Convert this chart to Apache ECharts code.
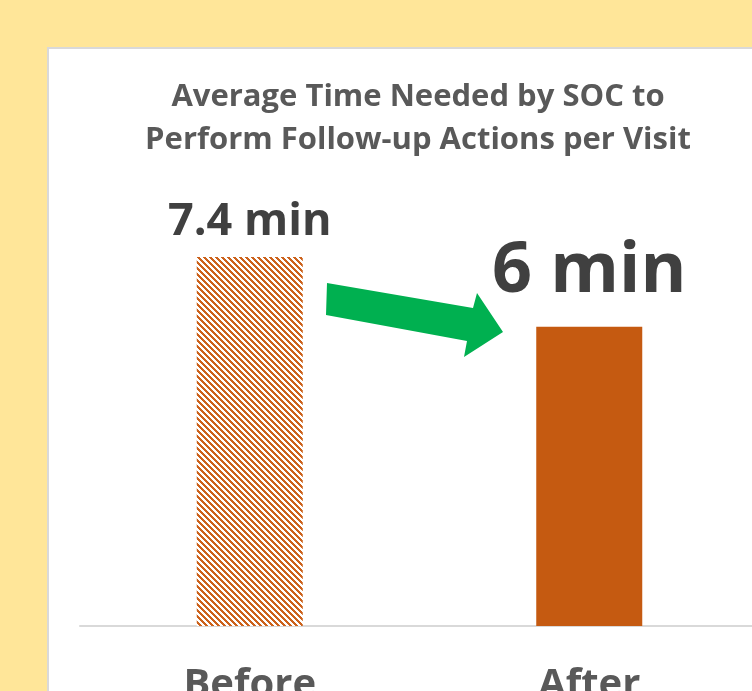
<!DOCTYPE html>
<html><head><meta charset="utf-8">
<script src="https://cdn.jsdelivr.net/npm/echarts@6/dist/echarts.min.js"></script>
<style>html,body{margin:0;padding:0;background:#FFE699;}#c{width:752px;height:691px;}</style>
</head><body><div id="c"></div>
<script>
const categories = ['Before', 'After'];
const values = [7.4, 6];
const valueLabels = ['7.4 min', '6 min'];
const titleLines = ['Average Time Needed by SOC to', 'Perform Follow-up Actions per Visit'];

function stripes() {
  const s = 6, c = document.createElement('canvas');
  c.width = s; c.height = s;
  const ctx = c.getContext('2d');
  const img = ctx.createImageData(s, s);
  for (let y = 0; y < s; y++) for (let x = 0; x < s; x++) {
    const d = ((x - y) % s + s) % s;
    const i = (y * s + x) * 4;
    const on = d < 3;
    img.data[i] = on ? 204 : 255; img.data[i+1] = on ? 98 : 255; img.data[i+2] = on ? 28 : 255; img.data[i+3] = 255;
  }
  ctx.putImageData(img, 0, 0);
  return c;
}

const chart = echarts.init(document.getElementById('c'));
const font = '"Open Sans", sans-serif';
chart.setOption({
  animation: false,
  backgroundColor: '#FFE699',
  graphic: [
    { type: 'rect', z: -10, shape: { x: 48, y: 48, width: 740, height: 700 }, style: { fill: '#fff', stroke: '#D9D9D9', lineWidth: 2 } },
    { type: 'text', z: 10, x: 418, y: 76, style: { text: titleLines.join('\n'), fill: '#595959', font: 'bold 31px ' + font, textAlign: 'center', lineHeight: 43 } },
    { type: 'polygon', z: 10, shape: { points: [[327, 283], [473, 308], [477, 293], [503, 332], [464, 357], [467, 341], [326, 315]] }, style: { fill: '#00B050' } }
  ],
  grid: { left: 80, width: 679, bottom: 65, top: 227, containLabel: false, outerBoundsMode: 'none' },
  xAxis: {
    type: 'category', data: categories,
    axisLine: { lineStyle: { color: '#D9D9D9', width: 2 } },
    axisTick: { show: false },
    axisLabel: { color: '#595959', fontSize: 40, fontWeight: 'bold', fontFamily: font, margin: 40 }
  },
  yAxis: { type: 'value', min: 0, max: 8, show: false, splitLine: { show: false } },
  series: [{
    type: 'bar', barWidth: 106,
    data: values.map((v, i) => ({
      value: v,
      itemStyle: i === 0 ? { color: { image: stripes(), repeat: 'repeat' } } : { color: '#C55A11' },
      label: i === 0 ? { fontSize: 45, distance: 12 } : { fontSize: 70, distance: 20 }
    })),
    label: {
      show: true, position: 'top', color: '#404040', fontWeight: 'bold', fontFamily: font,
      formatter: p => valueLabels[p.dataIndex]
    }
  }]
});
</script></body></html>
